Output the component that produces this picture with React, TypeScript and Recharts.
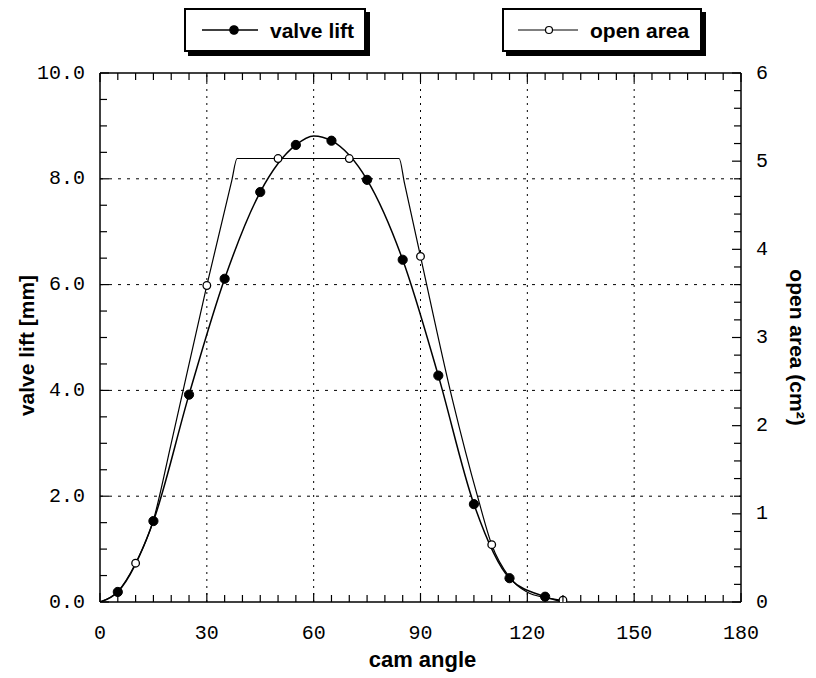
import React from 'react';
import { LineChart, Line, XAxis, YAxis, ReferenceLine } from 'recharts';

// ---- data ----
const valveAngle = [0, 5, 15, 25, 35, 45, 55, 60, 65, 75, 85, 95, 105, 115, 125, 130];
const valveLift = [0, 0.19, 1.53, 3.92, 6.11, 7.75, 8.64, 8.81, 8.72, 7.98, 6.47, 4.28, 1.85, 0.45, 0.1, 0.0];
const valveMarkerAngles = [5, 15, 25, 35, 45, 55, 65, 75, 85, 95, 105, 115, 125];

const areaAngle = [0, 5, 10, 15, 20, 30, 37, 38.5, 50, 70, 84, 85.5, 90, 99, 106, 110, 115, 120, 125, 130];
const openArea = [0, 0.12, 0.44, 0.93, 1.8, 3.59, 4.78, 5.03, 5.03, 5.03, 5.03, 4.75, 3.92, 2.29, 1.2, 0.65, 0.28, 0.11, 0.05, 0.02];
const areaMarkerAngles = [10, 30, 50, 70, 90, 110, 130];

const xMinorTicks = Array.from({ length: 37 }, (_, i) => i * 5);
const xLabelTicks = [0, 30, 60, 90, 120, 150, 180];
const leftMinorTicks = Array.from({ length: 21 }, (_, i) => i * 0.5);
const leftLabelTicks = [0, 2, 4, 6, 8, 10];
const rightMinorTicks = Array.from({ length: 31 }, (_, i) => Math.round(i * 2) / 10);
const rightLabelTicks = [0, 1, 2, 3, 4, 5, 6];
const xGrid = [30, 60, 90, 120, 150];
const yGrid = [2, 4, 6, 8];

const valveData = valveAngle.map((a, i) => ({ angle: a, lift: valveLift[i] }));
const areaData = areaAngle.map((a, i) => ({ angle: a, area: openArea[i] }));

const MONO = '"Liberation Mono", "Courier New", monospace';
const SANS = '"Liberation Sans", Arial, sans-serif';

const near = (arr: number[], v: number) => arr.some((a) => Math.abs(a - v) < 1e-6);

const BottomTick = (props: any) => {
  const { x, y, payload } = props;
  const v = payload.value;
  const major = near(xLabelTicks, v);
  return (
    <g>
      <line x1={x} y1={y} x2={x} y2={y - (major ? 9 : 7)} stroke="#000" strokeWidth={1.2} />
      {major && (
        <text x={x} y={y + 31} textAnchor="middle" dominantBaseline="central" fontFamily={MONO} fontSize={20} fill="#000">
          {v}
        </text>
      )}
    </g>
  );
};

const TopTick = (props: any) => {
  const { x, y, payload } = props;
  const major = near(xLabelTicks, payload.value);
  return <line x1={x} y1={y} x2={x} y2={y + (major ? 9 : 7)} stroke="#000" strokeWidth={1.2} />;
};

const LeftTick = (props: any) => {
  const { x, y, payload } = props;
  const v = payload.value;
  const major = near(leftLabelTicks, v);
  return (
    <g>
      <line x1={x} y1={y} x2={x + (major ? 9 : 7)} y2={y} stroke="#000" strokeWidth={1.2} />
      {major && (
        <text x={x - 15} y={y} textAnchor="end" dominantBaseline="central" fontFamily={MONO} fontSize={20} fill="#000">
          {v.toFixed(1)}
        </text>
      )}
    </g>
  );
};

const RightTick = (props: any) => {
  const { x, y, payload } = props;
  const v = payload.value;
  const major = near(rightLabelTicks, v);
  return (
    <g>
      <line x1={x} y1={y} x2={x - (major ? 9 : 7)} y2={y} stroke="#000" strokeWidth={1.2} />
      {major && (
        <text x={x + 15} y={y} textAnchor="start" dominantBaseline="central" fontFamily={MONO} fontSize={20} fill="#000">
          {v}
        </text>
      )}
    </g>
  );
};

const valveDot = (props: any) => {
  const { cx, cy, payload, index } = props;
  if (!near(valveMarkerAngles, payload.angle)) return <g key={`vd${index}`} />;
  return <circle key={`vd${index}`} cx={cx} cy={cy} r={4.6} fill="#000" stroke="#000" />;
};

const areaDot = (props: any) => {
  const { cx, cy, payload, index } = props;
  if (!near(areaMarkerAngles, payload.angle)) return <g key={`ad${index}`} />;
  return <circle key={`ad${index}`} cx={cx} cy={cy} r={3.8} fill="#fff" stroke="#000" strokeWidth={1.3} />;
};

const legendBox = (left: number, width: number, lineFrom: number, lineTo: number, markerX: number, filled: boolean, label: string) => (
  <div
    style={{
      position: 'absolute',
      left,
      top: 0,
      width,
      height: 44,
      border: '2px solid #000',
      boxShadow: '4px 4px 0 #000',
      background: '#fff',
      boxSizing: 'border-box',
      zIndex: 5,
    }}
  >
    <svg width={width - 4} height={40} style={{ position: 'absolute', left: 0, top: 0 }}>
      <line x1={lineFrom} y1={20} x2={lineTo} y2={20} stroke="#000" strokeWidth={filled ? 1.5 : 1} />
      <circle cx={markerX} cy={20} r={filled ? 4.2 : 3.5} fill={filled ? '#000' : '#fff'} stroke="#000" strokeWidth={1.2} />
      <text x={lineTo + 12} y={20} dominantBaseline="central" fontFamily={SANS} fontSize={21} fontWeight="bold" fill="#000">
        {label}
      </text>
    </svg>
  </div>
);

const axisLine = { stroke: '#000', strokeWidth: 1.5 };

export default function App() {
  return (
    <div style={{ position: 'relative', width: 800, height: 670 }}>
      <LineChart width={800} height={670} margin={{ top: 64, right: 66, bottom: 75, left: 91 }}>
        <XAxis
          xAxisId="bottom"
          dataKey="angle"
          type="number"
          domain={[0, 180]}
          ticks={xMinorTicks}
          interval={0}
          allowDataOverflow
          height={1}
          tickSize={0}
          tickMargin={0}
          tickLine={false}
          axisLine={axisLine}
          tick={<BottomTick />}
          label={{
            content: (p: any) => (
              <text
                x={p.viewBox.x + p.viewBox.width / 2 + 2}
                y={p.viewBox.y + 57}
                textAnchor="middle"
                dominantBaseline="central"
                fontFamily={SANS}
                fontWeight="bold"
                fontSize={22}
                fill="#000"
              >
                cam angle
              </text>
            ),
          }}
        />
        <XAxis
          xAxisId="top"
          orientation="top"
          dataKey="angle"
          type="number"
          domain={[0, 180]}
          ticks={xMinorTicks}
          interval={0}
          allowDataOverflow
          height={1}
          tickSize={0}
          tickMargin={0}
          tickLine={false}
          axisLine={axisLine}
          tick={<TopTick />}
        />
        <YAxis
          yAxisId="left"
          type="number"
          domain={[0, 10]}
          ticks={leftMinorTicks}
          interval={0}
          allowDataOverflow
          width={1}
          tickSize={0}
          tickMargin={0}
          tickLine={false}
          axisLine={axisLine}
          tick={<LeftTick />}
          label={{
            content: (p: any) => {
              const cx = p.viewBox.x - 73;
              const cy = p.viewBox.y + p.viewBox.height / 2 + 8;
              return (
                <text
                  x={cx}
                  y={cy}
                  transform={`rotate(-90 ${cx} ${cy})`}
                  textAnchor="middle"
                  dominantBaseline="central"
                  fontFamily={SANS}
                  fontWeight="bold"
                  fontSize={21}
                  fill="#000"
                >
                  valve lift [mm]
                </text>
              );
            },
          }}
        />
        <YAxis
          yAxisId="right"
          orientation="right"
          type="number"
          domain={[0, 6]}
          ticks={rightMinorTicks}
          interval={0}
          allowDataOverflow
          width={1}
          tickSize={0}
          tickMargin={0}
          tickLine={false}
          axisLine={axisLine}
          tick={<RightTick />}
          label={{
            content: (p: any) => {
              const cx = p.viewBox.x + 56;
              const cy = p.viewBox.y + p.viewBox.height / 2 + 10;
              return (
                <text
                  x={cx}
                  y={cy}
                  transform={`rotate(90 ${cx} ${cy})`}
                  textAnchor="middle"
                  dominantBaseline="central"
                  fontFamily={SANS}
                  fontWeight="bold"
                  fontSize={21}
                  fill="#000"
                >
                  open area (cm²)
                </text>
              );
            },
          }}
        />
        {xGrid.map((v) => (
          <ReferenceLine key={`gx${v}`} xAxisId="bottom" yAxisId="left" x={v} stroke="#000" strokeWidth={1} strokeDasharray="2 5" />
        ))}
        {yGrid.map((v) => (
          <ReferenceLine key={`gy${v}`} xAxisId="bottom" yAxisId="left" y={v} stroke="#000" strokeWidth={1} strokeDasharray="3 6" />
        ))}
        <Line
          xAxisId="bottom"
          yAxisId="left"
          data={valveData}
          dataKey="lift"
          type="monotone"
          stroke="#000"
          strokeWidth={1.5}
          dot={valveDot}
          activeDot={false}
          isAnimationActive={false}
        />
        <Line
          xAxisId="bottom"
          yAxisId="right"
          data={areaData}
          dataKey="area"
          type="monotone"
          stroke="#000"
          strokeWidth={1.2}
          dot={areaDot}
          activeDot={false}
          isAnimationActive={false}
        />
      </LineChart>
      {legendBox(176, 182, 16, 72, 48, true, 'valve lift')}
      {legendBox(494, 200, 14, 74, 45, false, 'open area')}
    </div>
  );
}
